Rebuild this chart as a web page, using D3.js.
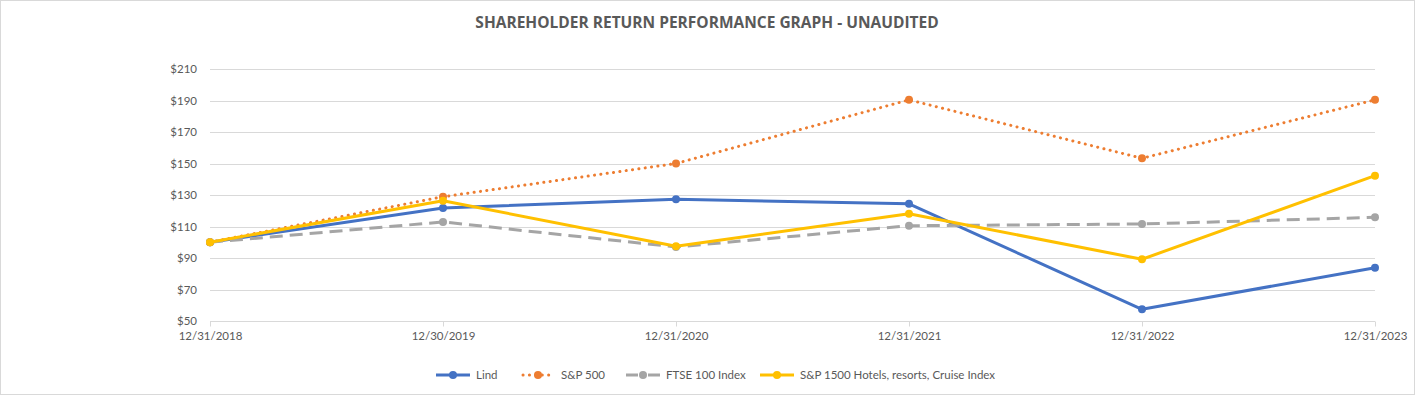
<!DOCTYPE html>
<html>
<head>
<meta charset="utf-8">
<script src="https://cdn.jsdelivr.net/npm/d3@7"></script>
<style>
  body { margin: 0; background: #fff; }
  svg { display: block; font-family: Lato, "Open Sans", sans-serif; }
</style>
</head>
<body>
<div id="chart-container"></div>
<script>
const dates = ["12/31/2018", "12/30/2019", "12/31/2020", "12/31/2021", "12/31/2022", "12/31/2023"];
const yTicks = [50, 70, 90, 110, 130, 150, 170, 190, 210];

const lind = [100, 121.8, 127.3, 124.4, 57.4, 83.8];
const sp500 = [100, 128.9, 150.0, 190.4, 153.3, 190.4];
const ftse = [100, 112.9, 97.0, 110.5, 111.6, 115.8];
const hotels = [100, 126.4, 97.4, 118.1, 89.2, 142.3];

const seriesNames = ["Lind", "S&P 500", "FTSE 100 Index", "S&P 1500 Hotels, resorts, Cruise Index"];
const seriesColors = ["#4472C4", "#ED7D31", "#A5A5A5", "#FFC000"];

const series = [
  { name: seriesNames[0], values: lind, color: seriesColors[0], dash: null },
  { name: seriesNames[1], values: sp500, color: seriesColors[1], dash: "0.1 6.3", cap: "round" },
  { name: seriesNames[2], values: ftse, color: seriesColors[2], dash: "13 7" },
  { name: seriesNames[3], values: hotels, color: seriesColors[3], dash: null }
];

const width = 1415, height = 395;
const margin = { left: 210, right: 40, top: 69, bottom: 74 };

const svg = d3.select("#chart-container")
  .append("svg")
  .attr("width", width)
  .attr("height", height);

// outer frame
svg.append("rect")
  .attr("x", 0.5).attr("y", 0.5)
  .attr("width", width - 1).attr("height", height - 1)
  .attr("fill", "#fff")
  .attr("stroke", "#d9d9d9");

svg.append("text")
  .attr("x", 707)
  .attr("y", 28)
  .attr("text-anchor", "middle")
  .attr("font-family", "\"Open Sans\", sans-serif")
  .attr("font-size", 15.5)
  .attr("font-weight", "bold")
  .attr("fill", "#595959")
  .text("SHAREHOLDER RETURN PERFORMANCE GRAPH - UNAUDITED");

const x = d3.scalePoint()
  .domain(dates)
  .range([margin.left, width - margin.right]);

const y = d3.scaleLinear()
  .domain([50, 210])
  .range([height - margin.bottom, margin.top]);

// gridlines
svg.append("g")
  .selectAll("line")
  .data(yTicks)
  .enter()
  .append("line")
  .attr("x1", margin.left)
  .attr("x2", width - margin.right)
  .attr("y1", d => Math.round(y(d)) + 0.5)
  .attr("y2", d => Math.round(y(d)) + 0.5)
  .attr("stroke", "#d9d9d9")
  .attr("stroke-width", 1);

// y axis labels
const yAxis = d3.axisLeft(y)
  .tickValues(yTicks)
  .tickSize(0)
  .tickPadding(13)
  .tickFormat(d => "$" + d);

svg.append("g")
  .attr("transform", `translate(${margin.left},0)`)
  .call(yAxis)
  .call(g => g.select(".domain").remove())
  .selectAll("text")
  .attr("font-size", 11.5)
  .attr("fill", "#595959")
  .attr("font-family", "Lato, sans-serif");

// x axis
const xAxis = d3.axisBottom(x)
  .tickSize(5)
  .tickPadding(5);

svg.append("g")
  .attr("transform", `translate(0,${Math.round(y(50)) + 0.5})`)
  .call(xAxis)
  .call(g => g.select(".domain").attr("stroke", "#d9d9d9").attr("d", `M${margin.left},0H${width - margin.right}`))
  .call(g => g.selectAll(".tick line").attr("stroke", "#d9d9d9"))
  .selectAll("text")
  .attr("font-size", 11.5)
  .attr("fill", "#595959")
  .attr("font-family", "Lato, sans-serif");

const line = d3.line()
  .x((d, i) => x(dates[i]))
  .y(d => y(d));

const plot = svg.append("g");

series.forEach(s => {
  plot.append("path")
    .datum(s.values)
    .attr("d", line)
    .attr("fill", "none")
    .attr("stroke", s.color)
    .attr("stroke-width", 3)
    .attr("stroke-linecap", s.cap || "butt")
    .attr("stroke-linejoin", "round")
    .attr("stroke-dasharray", s.dash);

  plot.selectAll(null)
    .data(s.values)
    .enter()
    .append("circle")
    .attr("cx", (d, i) => x(dates[i]))
    .attr("cy", d => y(d))
    .attr("r", 4)
    .attr("fill", s.color);
});

// legend
const legendX = [436, 521, 626, 760];
const legend = svg.append("g").attr("transform", "translate(0,375)");

series.forEach((s, i) => {
  const g = legend.append("g").attr("transform", `translate(${legendX[i]},0)`);
  g.append("line")
    .attr("x1", s.cap ? 2 : 0).attr("x2", 34)
    .attr("y1", 0).attr("y2", 0)
    .attr("stroke", s.color)
    .attr("stroke-width", 3)
    .attr("stroke-linecap", s.cap || "butt")
    .attr("stroke-dasharray", s.dash === "13 7" ? "12 10" : s.dash);
  g.append("circle")
    .attr("cx", 17).attr("cy", 0).attr("r", 4)
    .attr("fill", s.color);
  g.append("text")
    .attr("x", 40)
    .attr("y", 0)
    .attr("dy", "0.35em")
    .attr("font-size", 11.5)
    .attr("fill", "#595959")
    .text(s.name);
});
</script>
</body>
</html>
